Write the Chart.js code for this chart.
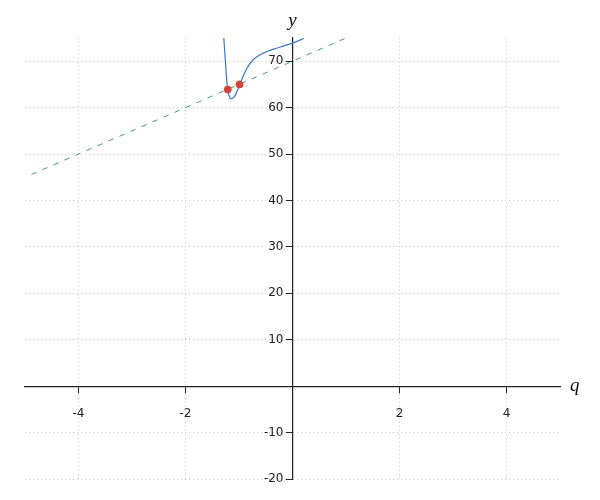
<!DOCTYPE html>
<html>
<head>
<meta charset="utf-8">
<script src="https://cdn.jsdelivr.net/npm/chart.js@4/dist/chart.umd.min.js"></script>
<style>
  html, body { margin: 0; padding: 0; background: #fff; }
</style>
</head>
<body>
<canvas id="plot" width="600" height="500"></canvas>
<script>
// curve samples (q, y)
const curveQ = [-1.284, -1.265, -1.245, -1.227, -1.21, -1.18, -1.148, -1.10, -1.065, -1.022, -0.985, -0.91, -0.847, -0.753, -0.66, -0.536, -0.35, -0.163, 0.024, 0.211];
const curveY = [75.0, 71.8, 68.3, 65.6, 63.8, 62.4, 61.9, 62.2, 62.8, 63.9, 65.0, 67.1, 68.6, 70.1, 71.0, 71.8, 72.6, 73.3, 74.0, 74.9];
// dashed straight line, end points
const lineQ = [-4.88, 1.0];
const lineY = [45.6, 75.0];
// marked points
const dotQ = [-1.21, -0.99];
const dotY = [63.9, 65.0];
// axes
const xTicks = [-4, -2, 0, 2, 4];
const yTicks = [-20, -10, 0, 10, 20, 30, 40, 50, 60, 70];

const toXY = (qs, ys) => qs.map((q, i) => ({ x: q, y: ys[i] }));

// y tick labels (left of the centred axis) and the two axis names
const axisText = {
  id: "axisText",
  afterDraw(chart) {
    const { ctx, chartArea, scales } = chart;
    const x0 = scales.x.getPixelForValue(0);
    ctx.save();
    ctx.fillStyle = "#222";
    ctx.font = "12px 'DejaVu Sans'";
    ctx.textAlign = "right";
    ctx.textBaseline = "middle";
    yTicks.forEach((v) => {
      if (v === 0) return;
      ctx.fillText(String(v), x0 - 9, scales.y.getPixelForValue(v));
    });
    ctx.fillStyle = "#111";
    ctx.font = "italic 19px 'Liberation Serif'";
    ctx.textAlign = "center";
    ctx.textBaseline = "alphabetic";
    ctx.fillText("y", x0, chartArea.top - 12);
    ctx.textAlign = "left";
    ctx.fillText("q", chartArea.right + 10, scales.y.getPixelForValue(0) + 5);
    ctx.restore();
  },
};

const tickFont = { family: "'DejaVu Sans'", size: 12 };

new Chart(document.getElementById("plot"), {
  type: "scatter",
  data: {
    datasets: [
      {
        data: toXY(lineQ, lineY),
        showLine: true,
        borderColor: "#45a060",
        borderWidth: 1,
        borderDash: [5.5, 6.5],
        pointRadius: 0,
        order: 3,
      },
      {
        data: toXY(curveQ, curveY),
        showLine: true,
        borderColor: "#3c78c8",
        borderWidth: 1.2,
        cubicInterpolationMode: "monotone",
        pointRadius: 0,
        order: 2,
      },
      {
        data: toXY(dotQ, dotY),
        showLine: false,
        backgroundColor: "#d1443a",
        borderColor: "#d1443a",
        pointRadius: 3.5,
        order: 1,
      },
    ],
  },
  options: {
    responsive: false,
    animation: false,
    devicePixelRatio: 1,
    layout: { padding: { left: 25, right: 40, top: 38, bottom: 21 } },
    plugins: { legend: { display: false }, tooltip: { enabled: false } },
    scales: {
      x: {
        type: "linear",
        min: -5, max: 5,
        position: { y: 0 },
        grid: { color: "#c8c8c8", tickColor: "#222", tickLength: 6, tickBorderDash: [] },
        border: { color: "#222", width: 1.2, dash: [1, 3] },
        afterBuildTicks: (s) => { s.ticks = xTicks.map((v) => ({ value: v })); },
        ticks: {
          font: tickFont, color: "#222", padding: 15, maxRotation: 0,
          callback: (v) => (v === 0 ? "" : v),
        },
      },
      y: {
        type: "linear",
        min: -20, max: 75,
        position: { x: 0 },
        grid: { color: "#c8c8c8", tickColor: "#222", tickLength: 6, tickBorderDash: [] },
        border: { color: "#222", width: 1.2, dash: [1, 3] },
        afterBuildTicks: (s) => { s.ticks = yTicks.map((v) => ({ value: v })); },
        ticks: { display: false },
      },
    },
  },
  plugins: [axisText],
});
</script>
</body>
</html>
